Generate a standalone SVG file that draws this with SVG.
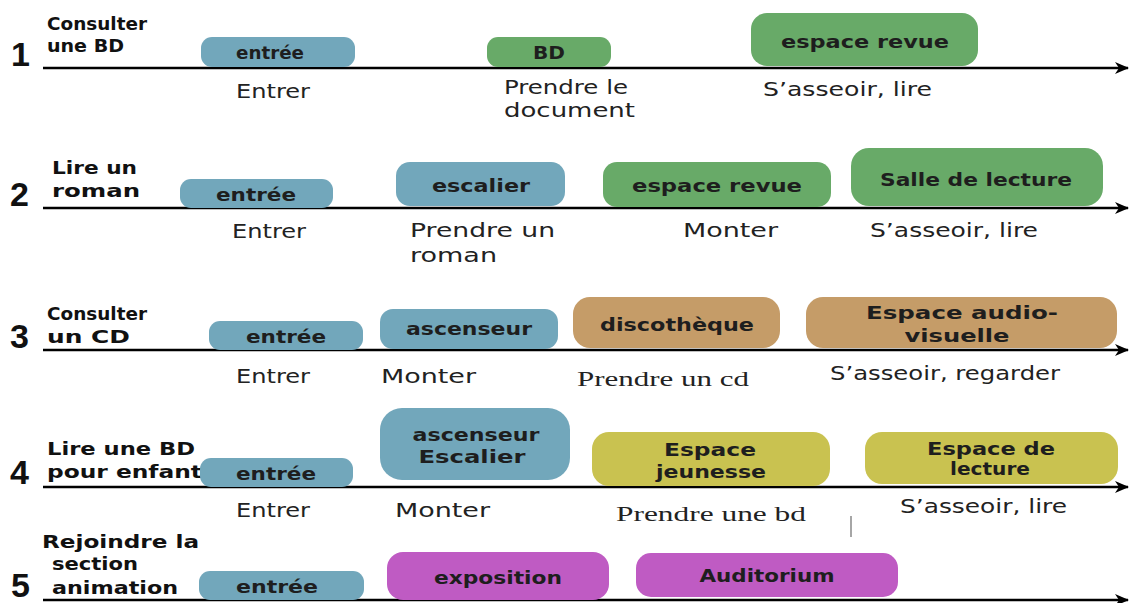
<svg xmlns="http://www.w3.org/2000/svg" width="1130" height="603" viewBox="0 0 1130 603">
<defs>
<marker id="arr" markerWidth="14" markerHeight="12" refX="13" refY="6" orient="auto" markerUnits="userSpaceOnUse">
<path d="M0,0 L14,6 L0,12 L4,6 z" fill="#000"/>
</marker>
<style>
.ax{stroke:#000;stroke-width:2.5;fill:none}
.blue{fill:#72a7bb}
.green{fill:#68aa68}
.brown{fill:#c59c68}
.olive{fill:#c9c250}
.purple{fill:#bf5bc3}
.bt{font-family:"DejaVu Sans",Verdana,sans-serif;font-weight:bold;font-size:18px;fill:#1e1e1e;text-anchor:middle}
.lt{font-family:"DejaVu Sans",Verdana,sans-serif;font-weight:bold;font-size:17px;fill:#111}
.num{font-family:"Liberation Sans",Arial,sans-serif;font-weight:bold;font-size:34px;fill:#111}
.st{font-family:"DejaVu Sans",Verdana,sans-serif;font-size:20px;fill:#222}
.sf{font-family:"Liberation Serif","Times New Roman",serif;font-size:21px;fill:#222}
</style>
</defs>
<rect width="1130" height="603" fill="#fff"/>

<g id="connectors">
<line class="ax" x1="43" y1="68" x2="1128" y2="68" marker-end="url(#arr)"/>
<line class="ax" x1="43" y1="208" x2="1128" y2="208" marker-end="url(#arr)"/>
<line class="ax" x1="43" y1="350" x2="1128" y2="350" marker-end="url(#arr)"/>
<line class="ax" x1="43" y1="487" x2="1128" y2="487" marker-end="url(#arr)"/>
<line class="ax" x1="43" y1="600" x2="1128" y2="600" marker-end="url(#arr)"/>
<line x1="851" y1="516" x2="851" y2="537" stroke="#888" stroke-width="1.5"/>
</g>

<g id="row1">
<text class="num" x="11" y="66">1</text>
<text class="lt" x="47" y="30" textLength="100" lengthAdjust="spacingAndGlyphs">Consulter</text>
<text class="lt" x="47" y="52" textLength="77" lengthAdjust="spacingAndGlyphs">une BD</text>
</g>
<g id="r1-entree"><rect class="blue" x="201" y="37" width="154" height="30" rx="11"/><text class="bt" x="270" y="59" textLength="68" lengthAdjust="spacingAndGlyphs">entrée</text></g>
<g id="r1-bd"><rect class="green" x="487" y="37" width="124" height="30" rx="11"/><text class="bt" x="549" y="59" textLength="32" lengthAdjust="spacingAndGlyphs">BD</text></g>
<g id="r1-espace"><rect class="green" x="751" y="13" width="227" height="53" rx="16"/><text class="bt" x="865" y="48" textLength="168" lengthAdjust="spacingAndGlyphs">espace revue</text></g>
<text class="st" x="236" y="98" textLength="74" lengthAdjust="spacingAndGlyphs">Entrer</text>
<text class="st" x="504" y="94" textLength="124" lengthAdjust="spacingAndGlyphs">Prendre le</text>
<text class="st" x="504" y="117" textLength="131" lengthAdjust="spacingAndGlyphs">document</text>
<text class="st" x="763" y="96" textLength="169" lengthAdjust="spacingAndGlyphs">S’asseoir, lire</text>

<g id="row2">
<text class="num" x="10" y="206">2</text>
<text class="lt" x="52" y="174" textLength="85" lengthAdjust="spacingAndGlyphs">Lire un</text>
<text class="lt" x="52" y="197" textLength="88" lengthAdjust="spacingAndGlyphs">roman</text>
</g>
<g id="r2-entree"><rect class="blue" x="180" y="179" width="153" height="29" rx="11"/><text class="bt" x="256" y="201" textLength="80" lengthAdjust="spacingAndGlyphs">entrée</text></g>
<g id="r2-escalier"><rect class="blue" x="396" y="162" width="169" height="44" rx="14"/><text class="bt" x="481" y="192" textLength="98" lengthAdjust="spacingAndGlyphs">escalier</text></g>
<g id="r2-espace"><rect class="green" x="603" y="162" width="228" height="45" rx="14"/><text class="bt" x="717" y="192" textLength="170" lengthAdjust="spacingAndGlyphs">espace revue</text></g>
<g id="r2-salle"><rect class="green" x="851" y="148" width="252" height="58" rx="18"/><text class="bt" x="976" y="186" textLength="192" lengthAdjust="spacingAndGlyphs">Salle de lecture</text></g>
<text class="st" x="232" y="238" textLength="74" lengthAdjust="spacingAndGlyphs">Entrer</text>
<text class="st" x="410" y="237" textLength="145" lengthAdjust="spacingAndGlyphs">Prendre un</text>
<text class="st" x="410" y="262" textLength="87" lengthAdjust="spacingAndGlyphs">roman</text>
<text class="st" x="683" y="237" textLength="95" lengthAdjust="spacingAndGlyphs">Monter</text>
<text class="st" x="870" y="237" textLength="168" lengthAdjust="spacingAndGlyphs">S’asseoir, lire</text>

<g id="row3">
<text class="num" x="10" y="348">3</text>
<text class="lt" x="47" y="320" textLength="100" lengthAdjust="spacingAndGlyphs">Consulter</text>
<text class="lt" x="47" y="343" textLength="83" lengthAdjust="spacingAndGlyphs">un CD</text>
</g>
<g id="r3-entree"><rect class="blue" x="209" y="321" width="154" height="29" rx="11"/><text class="bt" x="286" y="343" textLength="80" lengthAdjust="spacingAndGlyphs">entrée</text></g>
<g id="r3-ascenseur"><rect class="blue" x="380" y="309" width="178" height="40" rx="13"/><text class="bt" x="469" y="335" textLength="126" lengthAdjust="spacingAndGlyphs">ascenseur</text></g>
<g id="r3-disco"><rect class="brown" x="573" y="297" width="207" height="51" rx="17"/><text class="bt" x="677" y="331" textLength="154" lengthAdjust="spacingAndGlyphs">discothèque</text></g>
<g id="r3-audio"><rect class="brown" x="806" y="297" width="311" height="51" rx="17"/><text class="bt" x="962" y="319" textLength="192" lengthAdjust="spacingAndGlyphs">Espace audio-</text><text class="bt" x="957" y="342" textLength="105" lengthAdjust="spacingAndGlyphs">visuelle</text></g>
<text class="st" x="236" y="383" textLength="74" lengthAdjust="spacingAndGlyphs">Entrer</text>
<text class="st" x="381" y="383" textLength="95" lengthAdjust="spacingAndGlyphs">Monter</text>
<text class="sf" x="577" y="386" textLength="172" lengthAdjust="spacingAndGlyphs">Prendre un cd</text>
<text class="st" x="830" y="380" textLength="230" lengthAdjust="spacingAndGlyphs">S’asseoir, regarder</text>

<g id="row4">
<text class="num" x="10" y="484">4</text>
<text class="lt" x="47" y="455" textLength="148" lengthAdjust="spacingAndGlyphs">Lire une BD</text>
<text class="lt" x="47" y="478" textLength="155" lengthAdjust="spacingAndGlyphs">pour enfant</text>
</g>
<g id="r4-entree"><rect class="blue" x="200" y="458" width="153" height="29" rx="11"/><text class="bt" x="276" y="480" textLength="80" lengthAdjust="spacingAndGlyphs">entrée</text></g>
<g id="r4-ascenseur"><rect class="blue" x="380" y="408" width="190" height="72" rx="22"/><text class="bt" x="476" y="441" textLength="127" lengthAdjust="spacingAndGlyphs">ascenseur</text><text class="bt" x="472" y="463" textLength="107" lengthAdjust="spacingAndGlyphs">Escalier</text></g>
<g id="r4-jeunesse"><rect class="olive" x="592" y="432" width="238" height="54" rx="17"/><text class="bt" x="710" y="456" textLength="92" lengthAdjust="spacingAndGlyphs">Espace</text><text class="bt" x="711" y="478" textLength="110" lengthAdjust="spacingAndGlyphs">jeunesse</text></g>
<g id="r4-lecture"><rect class="olive" x="865" y="432" width="253" height="52" rx="17"/><text class="bt" x="991" y="455" textLength="128" lengthAdjust="spacingAndGlyphs">Espace de</text><text class="bt" x="990" y="475" textLength="80" lengthAdjust="spacingAndGlyphs">lecture</text></g>
<text class="st" x="236" y="517" textLength="74" lengthAdjust="spacingAndGlyphs">Entrer</text>
<text class="st" x="395" y="517" textLength="95" lengthAdjust="spacingAndGlyphs">Monter</text>
<text class="sf" x="616" y="521" textLength="190" lengthAdjust="spacingAndGlyphs">Prendre une bd</text>
<text class="st" x="900" y="513" textLength="167" lengthAdjust="spacingAndGlyphs">S’asseoir, lire</text>

<g id="row5">
<text class="num" x="11" y="597">5</text>
<text class="lt" x="42" y="548" textLength="157" lengthAdjust="spacingAndGlyphs">Rejoindre la</text>
<text class="lt" x="52" y="570" textLength="86" lengthAdjust="spacingAndGlyphs">section</text>
<text class="lt" x="52" y="594" textLength="126" lengthAdjust="spacingAndGlyphs">animation</text>
</g>
<g id="r5-entree"><rect class="blue" x="199" y="571" width="165" height="29" rx="11"/><text class="bt" x="277" y="593" textLength="82" lengthAdjust="spacingAndGlyphs">entrée</text></g>
<g id="r5-expo"><rect class="purple" x="387" y="552" width="222" height="48" rx="16"/><text class="bt" x="498" y="584" textLength="128" lengthAdjust="spacingAndGlyphs">exposition</text></g>
<g id="r5-audi"><rect class="purple" x="636" y="553" width="262" height="44" rx="15"/><text class="bt" x="767" y="582" textLength="135" lengthAdjust="spacingAndGlyphs">Auditorium</text></g>
</svg>
